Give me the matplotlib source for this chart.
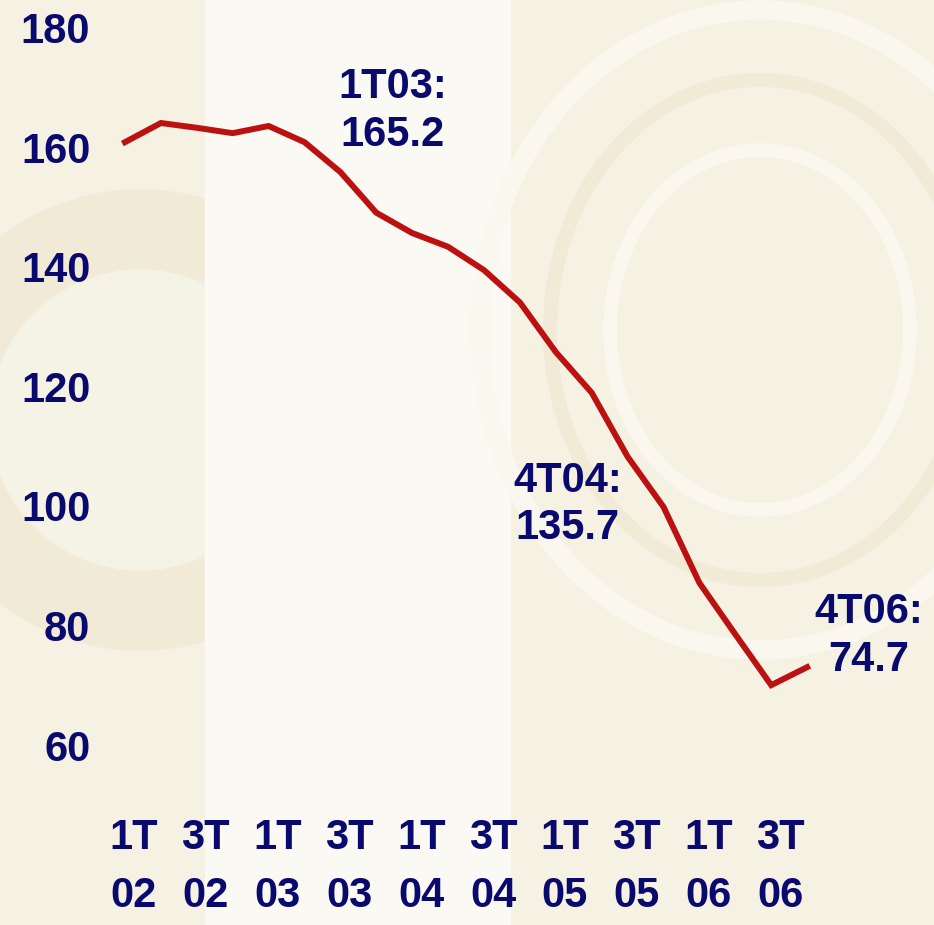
import matplotlib
matplotlib.use("Agg")
import numpy as np
import matplotlib.pyplot as plt
from matplotlib.transforms import ScaledTranslation
from matplotlib.patches import Rectangle, Circle, Ellipse

# Trimestres 1T02 .. 4T06
quarters = ["1T02", "2T02", "3T02", "4T02",
            "1T03", "2T03", "3T03", "4T03",
            "1T04", "2T04", "3T04", "4T04",
            "1T05", "2T05", "3T05", "4T05",
            "1T06", "2T06", "3T06", "4T06"]
values = [162.5, 165.7, 164.9, 164.0,
          165.2, 162.5, 157.5, 150.7,
          147.3, 145.0, 141.1, 135.7,
          127.4, 120.6, 109.9, 101.5,
          88.8, 80.2, 71.7, 74.7]

# Trimestres anotados
marked = ["1T03", "4T04", "4T06"]

y_ticks = [60, 80, 100, 120, 140, 160, 180]

navy = "#0A0A6E"
red = "#BC1111"
W, H = 934, 925

plt.rcParams["font.family"] = ["Liberation Sans", "DejaVu Sans"]
plt.rcParams["font.weight"] = "bold"

fig = plt.figure(figsize=(W / 100, H / 100), dpi=100)
fig.patch.set_facecolor("#F5F1E3")

# fondo tipo billete, muy suave
bg = fig.add_axes([0, 0, 1, 1], zorder=0)
bg.set_xlim(0, W)
bg.set_ylim(H, 0)
bg.axis("off")
bg.add_patch(Rectangle((0, 0), W, H, color="#F5F1E3"))
bg.add_patch(Circle((140, 420), 230, color="#F0EAD7"))
bg.add_patch(Circle((140, 420), 150, color="#F5F2E6"))
bg.add_patch(Rectangle((205, 0), 305, H, color="#FAF9F3"))
bg.add_patch(Ellipse((760, 330), 560, 640, fill=False, ec="#F9F7EE", lw=14))
bg.add_patch(Ellipse((760, 330), 420, 500, fill=False, ec="#F0EAD6", lw=10))
bg.add_patch(Ellipse((760, 330), 300, 360, fill=False, ec="#F9F7EE", lw=10))

# ejes en pixeles: idx0 -> x=125, paso 35.9; 165.2 -> y=126, 5.98 px/unidad
L, R, T, B = 100, 934, 10, 790
ax = fig.add_axes([L / W, 1 - B / H, (R - L) / W, (B - T) / H], zorder=1)
ax.patch.set_alpha(0)
x = np.arange(len(quarters))
ax.set_xlim((L - 125) / 35.9, (R - 125) / 35.9)
ax.set_ylim(165.2 - (B - 126) / 5.98, 165.2 + (126 - T) / 5.98)

ax.plot(x, values, color=red, lw=4.3, solid_joinstyle="miter")

offsets = {"1T03": (124, 15), "4T04": (48, -202), "4T06": (62, 31)}
for q in marked:
    i = quarters.index(q)
    ax.annotate(f"{q}:\n{values[i]:.1f}", xy=(i, values[i]), xytext=offsets[q],
                textcoords="offset pixels", ha="center", va="center",
                fontsize=30, color=navy, fontweight="bold", linespacing=1.25)

ax.set_yticks(y_ticks)
ax.set_yticklabels([str(v) for v in y_ticks], fontsize=30, color=navy, fontweight="bold")
ax.set_xticks(x[::2])
ax.set_xticklabels([q[:2] + "\n" + q[2:] for q in quarters[::2]], fontsize=30,
                   color=navy, fontweight="bold", linespacing=1.6)
ax.tick_params(axis="y", length=0, pad=7)
ax.tick_params(axis="x", length=0, pad=20)
for lab in ax.get_yticklabels():
    lab.set_transform(lab.get_transform() + ScaledTranslation(0, 0.10, fig.dpi_scale_trans))
for lab in ax.get_xticklabels():
    lab.set_transform(lab.get_transform() + ScaledTranslation(0.09, 0, fig.dpi_scale_trans))
for s in ax.spines.values():
    s.set_visible(False)

fig.savefig("out.png", dpi=100, facecolor=fig.get_facecolor())
